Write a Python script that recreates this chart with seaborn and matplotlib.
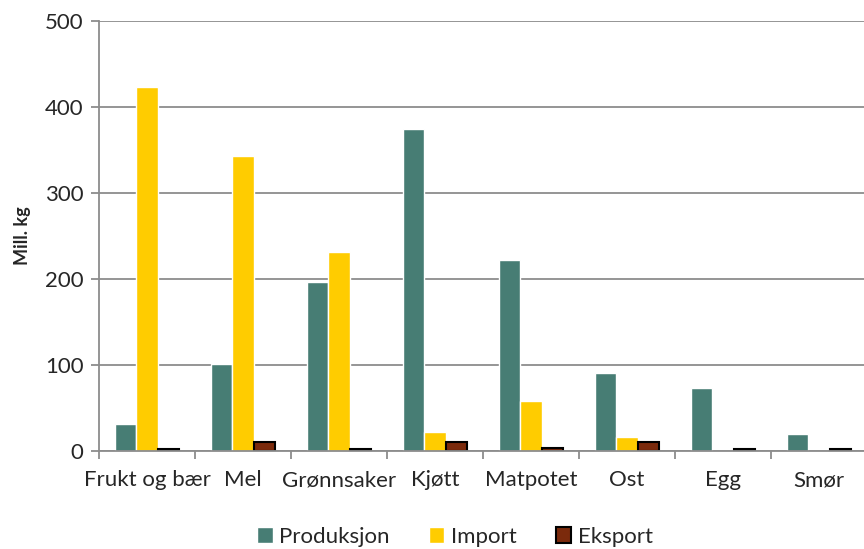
import matplotlib
matplotlib.use("Agg")
import matplotlib.pyplot as plt
import seaborn as sns
import pandas as pd
from matplotlib.patches import Patch

# Data (Mill. kg)
kategorier = ["Frukt og bær", "Mel", "Grønnsaker", "Kjøtt", "Matpotet", "Ost", "Egg", "Smør"]
produksjon = [31, 101, 197, 374, 222, 91, 73, 20]
importert = [423, 343, 231, 22, 58, 16, 0, 0]
eksport = [2, 11, 2, 11, 3, 11, 2, 2]
serier = ["Produksjon", "Import", "Eksport"]
farger = ["#477D74", "#FFCC00", "#7B2A0C"]

df = pd.DataFrame({
    "kategori": kategorier * 3,
    "verdi": produksjon + importert + eksport,
    "serie": [s for s in serier for _ in kategorier],
})

sns.set_style("white")
plt.rcParams["font.family"] = ["Lato", "DejaVu Sans"]

fig = plt.figure(figsize=(8.64, 5.49), dpi=100)
ax = fig.add_axes([99 / 864, 98 / 549, 768 / 864, 430 / 549])

sns.barplot(data=df, x="kategori", y="verdi", hue="serie", palette=farger,
            saturation=1, width=0.66, gap=0, ax=ax, legend=False)

# export bars get a black outline like the original
for bar in ax.containers[2]:
    bar.set_edgecolor("black")
    bar.set_linewidth(1.5)

ax.set_xlim(-0.5, len(kategorier) - 0.5)
ax.set_ylim(0, 500)
ax.set_yticks(range(0, 501, 100))
ax.yaxis.grid(True, color="#8c8c8c", linewidth=1.3)
ax.set_axisbelow(True)

ax.set_xlabel("")
ax.set_ylabel("Mill. kg", fontsize=13, fontweight="bold", labelpad=10)

for side in ["top", "right"]:
    ax.spines[side].set_visible(False)
for side in ["left", "bottom"]:
    ax.spines[side].set_color("#8c8c8c")
    ax.spines[side].set_linewidth(1.3)

ax.tick_params(axis="y", labelsize=16, length=6, color="#8c8c8c", width=1.3, left=True, pad=5)
ax.tick_params(axis="x", which="major", labelsize=16, length=0, pad=14)
ax.set_xticks([i - 0.5 for i in range(len(kategorier) + 1)], minor=True)
ax.tick_params(axis="x", which="minor", length=6, color="#8c8c8c", width=1.3, bottom=True)

handles = [Patch(facecolor=farger[0]), Patch(facecolor=farger[1]),
           Patch(facecolor=farger[2], edgecolor="black", linewidth=1.5)]
fig.legend(handles, serier, loc="center", bbox_to_anchor=(455 / 864, 12 / 549), ncol=3,
           frameon=False, fontsize=16, handlelength=0.7, handleheight=0.7,
           handletextpad=0.3, columnspacing=1.75)

fig.savefig("out.png", dpi=100)
